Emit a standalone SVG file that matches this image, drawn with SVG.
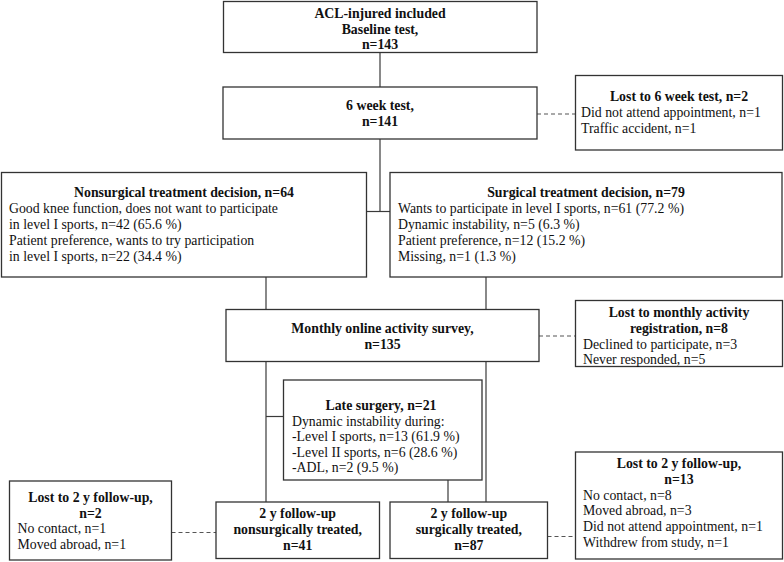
<svg xmlns="http://www.w3.org/2000/svg" width="784" height="562" viewBox="0 0 784 562">
<style>
  .box { fill: #ffffff; stroke: #333333; stroke-width: 1.3; }
  .ln { fill: none; stroke: #3a3a3a; stroke-width: 1.2; }
  .dash { fill: none; stroke: #555555; stroke-width: 1.2; stroke-dasharray: 4 3; }
  text { font-family: "Liberation Serif", "Times New Roman", serif; font-size: 13.8px; fill: #111111; }
  .t { font-weight: bold; text-anchor: middle; }
</style>
<rect width="784" height="562" fill="#ffffff"/>
<g id="connectors">
  <path class="ln" d="M380,52.5 V87"/>
  <path class="ln" d="M380,139 V211.5"/>
  <path class="ln" d="M366.5,211.5 H390"/>
  <path class="ln" d="M266,277 V309.5"/>
  <path class="ln" d="M486,277 V309.5"/>
  <path class="ln" d="M266,361.5 V502"/>
  <path class="ln" d="M486,361.5 V502"/>
  <path class="ln" d="M266,416.5 H283.5"/>
  <path class="ln" d="M448,480 V502"/>
  <path class="dash" d="M537,114 H575.5"/>
  <path class="dash" d="M539,336 H575.5"/>
  <path class="dash" d="M171.5,532.5 H216"/>
  <path class="dash" d="M547.5,536.5 H575.5"/>
</g>
<g id="baseline">
  <rect class="box" x="223.5" y="1.5" width="313.5" height="51"/>
  <text class="t" x="380" y="18">ACL-injured included</text>
  <text class="t" x="380" y="33.5">Baseline test,</text>
  <text class="t" x="380" y="49">n=143</text>
</g>
<g id="week6">
  <rect class="box" x="223" y="87" width="314" height="52"/>
  <text class="t" x="380" y="110">6 week test,</text>
  <text class="t" x="380" y="126">n=141</text>
</g>
<g id="lost6">
  <rect class="box" x="575.5" y="75.5" width="207" height="74.5"/>
  <text class="t" x="679" y="101">Lost to 6 week test, n=2</text>
  <text x="581" y="117">Did not attend appointment, n=1</text>
  <text x="581" y="133">Traffic accident, n=1</text>
</g>
<g id="nonsurgical">
  <rect class="box" x="1.5" y="172.5" width="365" height="104.5"/>
  <text class="t" x="184" y="196.5">Nonsurgical treatment decision, n=64</text>
  <text x="9" y="213">Good knee function, does not want to participate</text>
  <text x="9" y="229">in level I sports, n=42 (65.6 %)</text>
  <text x="9" y="244.5">Patient preference, wants to try participation</text>
  <text x="9" y="260.5">in level I sports, n=22 (34.4 %)</text>
</g>
<g id="surgical">
  <rect class="box" x="390" y="172.5" width="392" height="104.5"/>
  <text class="t" x="586" y="196.5">Surgical treatment decision, n=79</text>
  <text x="398" y="213">Wants to participate in level I sports, n=61 (77.2 %)</text>
  <text x="398" y="229">Dynamic instability, n=5 (6.3 %)</text>
  <text x="398" y="244.5">Patient preference, n=12 (15.2 %)</text>
  <text x="398" y="260.5">Missing, n=1 (1.3 %)</text>
</g>
<g id="monthly">
  <rect class="box" x="226" y="309.5" width="313" height="52"/>
  <text class="t" x="382.5" y="332.5">Monthly online activity survey,</text>
  <text class="t" x="382.5" y="348.5">n=135</text>
</g>
<g id="lostmonthly">
  <rect class="box" x="575.5" y="300.5" width="207" height="66"/>
  <text class="t" x="679" y="317">Lost to monthly activity</text>
  <text class="t" x="679" y="333">registration, n=8</text>
  <text x="583" y="349">Declined to participate, n=3</text>
  <text x="583" y="364">Never responded, n=5</text>
</g>
<g id="late">
  <rect class="box" x="283.5" y="380" width="198.5" height="100"/>
  <text class="t" x="381" y="409.5">Late surgery, n=21</text>
  <text x="292" y="425.5">Dynamic instability during:</text>
  <text x="292" y="441">-Level I sports, n=13 (61.9 %)</text>
  <text x="292" y="456.5">-Level II sports, n=6 (28.6 %)</text>
  <text x="292" y="472">-ADL, n=2 (9.5 %)</text>
</g>
<g id="lost2a">
  <rect class="box" x="9.5" y="481" width="162" height="79"/>
  <text class="t" x="90.5" y="501.5">Lost to 2 y follow-up,</text>
  <text class="t" x="90.5" y="517.5">n=2</text>
  <text x="17.5" y="533">No contact, n=1</text>
  <text x="17.5" y="549">Moved abroad, n=1</text>
</g>
<g id="fu_nonsurgical">
  <rect class="box" x="216" y="502" width="163.5" height="56.5"/>
  <text class="t" x="297.7" y="518">2 y follow-up</text>
  <text class="t" x="297.7" y="534">nonsurgically treated,</text>
  <text class="t" x="297.7" y="550">n=41</text>
</g>
<g id="fu_surgical">
  <rect class="box" x="390" y="502" width="157.5" height="56.5"/>
  <text class="t" x="468.8" y="518">2 y follow-up</text>
  <text class="t" x="468.8" y="534">surgically treated,</text>
  <text class="t" x="468.8" y="550">n=87</text>
</g>
<g id="lost2b">
  <rect class="box" x="575.5" y="452" width="207" height="107"/>
  <text class="t" x="679" y="468">Lost to 2 y follow-up,</text>
  <text class="t" x="679" y="484">n=13</text>
  <text x="583" y="499.5">No contact, n=8</text>
  <text x="583" y="515">Moved abroad, n=3</text>
  <text x="583" y="531">Did not attend appointment, n=1</text>
  <text x="583" y="546.5">Withdrew from study, n=1</text>
</g>
</svg>
